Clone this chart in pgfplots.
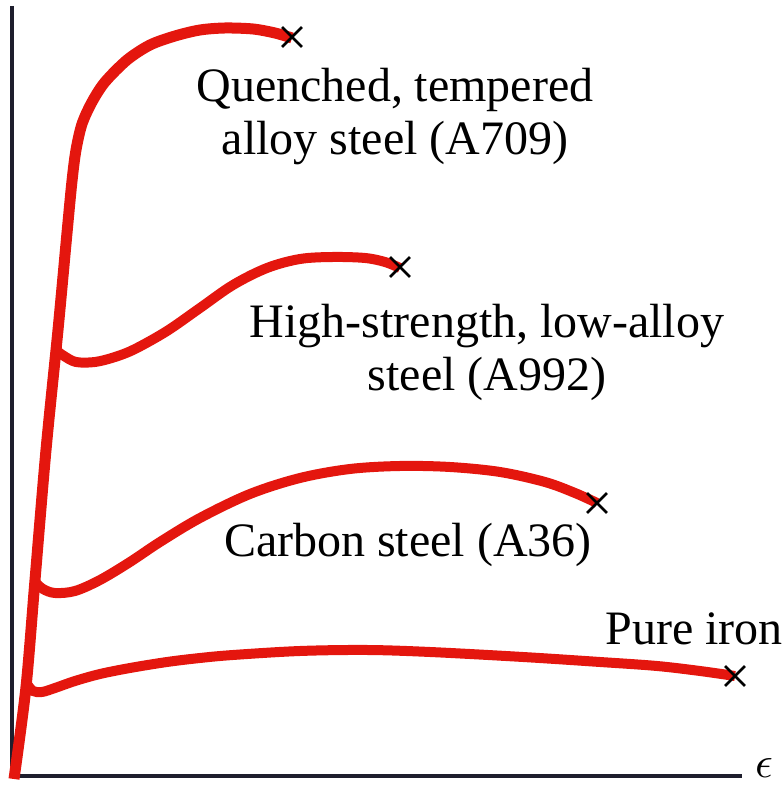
\documentclass[border=0pt]{standalone}
\usepackage{pgfplots}
\pgfplotsset{compat=1.18}
\usepackage{fontspec}
\setmainfont{Liberation Serif}
\definecolor{steelred}{RGB}{228,22,14}
\definecolor{axisdark}{RGB}{30,30,45}
\begin{document}
\begin{tikzpicture}[x=1pt,y=1pt]
\useasboundingbox (0,0) rectangle (784,787);
\begin{axis}[
  at={(0,0)}, anchor=south west,
  scale only axis, width=784pt, height=787pt,
  xmin=0, xmax=784, ymin=0, ymax=787,
  hide axis, clip=false,
]
% axes
\addplot[axisdark, line width=3.4pt] coordinates {(12,781) (12,11) (742,11)};
% Quenched, tempered alloy steel (A709)
\addplot[steelred, line width=11pt, smooth, tension=0.5] coordinates {
 (14,8) (26,100) (35,207) (46,337) (58,457) (67,554) (72,606) (76,637) (82,663) (92,685)
 (105,705) (127,727) (150,742) (175,751) (200,757) (225,759) (253,758) (275,754) (292,749)};
% High-strength, low-alloy steel (A992)
\addplot[steelred, line width=10pt, smooth, tension=0.55] coordinates {
 (57,436) (64,431) (76,425) (95,425) (115,430) (135,438) (167,456) (200,479) (233,502)
 (267,519) (300,528) (333,530) (365,529) (385,525) (400,519)};
% Carbon steel (A36)
\addplot[steelred, line width=10pt, smooth, tension=0.55] coordinates {
 (35,205) (43,198) (55,194) (75,196) (100,207) (130,225) (160,245) (200,269) (250,293)
 (300,309) (350,318) (400,321) (450,320) (500,315) (545,305) (575,294) (597,284)};
% Pure iron
\addplot[steelred, line width=10pt, smooth, tension=0.55] coordinates {
 (27,103) (33,96) (42,95) (55,99) (75,106) (100,113) (130,119) (167,125) (200,129)
 (233,132) (300,136) (367,137) (430,135) (523,130) (600,125) (657,121) (700,116) (735,111)};
% fracture points
\addplot[only marks, mark=x, mark size=14pt, black, mark options={line width=2.8pt}] coordinates {
 (292,750) (400,520) (597,284) (735,111)};
% labels
\node[font=\fontsize{48}{53}\selectfont, align=center] at (axis cs:395,670) {Quenched, tempered\\alloy steel (A709)};
\node[font=\fontsize{48}{53}\selectfont, align=center] at (axis cs:487,435) {High-strength, low-alloy\\steel (A992)};
\node[font=\fontsize{48}{53}\selectfont] at (axis cs:408,242) {Carbon steel (A36)};
\node[font=\fontsize{48}{53}\selectfont] at (axis cs:694,158) {Pure iron};
\node[scale=4.4, inner sep=0pt] at (axis cs:764,19) {$\epsilon$};
\end{axis}
\end{tikzpicture}
\end{document}
